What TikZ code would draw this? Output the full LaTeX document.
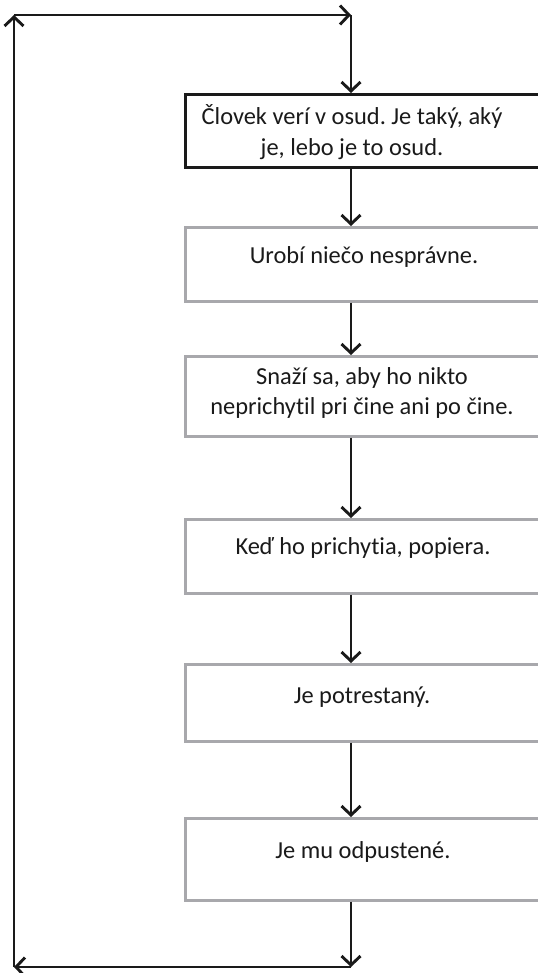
\documentclass[tikz,border=0pt]{standalone}
\usepackage{fontspec}
\setmainfont{Carlito}[Ligatures=NoCommon]
\usetikzlibrary{arrows.meta}
\definecolor{boxgray}{HTML}{A8A8AC}
\definecolor{ink}{HTML}{1A1A1A}
\frenchspacing
\begin{document}
\begin{tikzpicture}[x=1bp,y=-1bp,
  arr/.style={draw=ink,line width=2.9bp,-{Straight Barb[length=9bp,width=19bp,line width=2.9bp]}},
  stepbox/.style={draw=boxgray,line width=2.6bp,fill=white,inner sep=0pt,anchor=north west},
  firstbox/.style={draw=ink,line width=2.9bp,fill=white,inner sep=0pt,anchor=north west},
  txt/.style={font=\fontsize{24.5}{31}\selectfont,text=ink,align=center,inner sep=0pt}]
\useasboundingbox (0,0) rectangle (538,973);
\coordinate (tl) at (14,15);
\coordinate (tr) at (351,15);
\coordinate (bl) at (14,967);
\coordinate (br) at (351,967);
\node[firstbox,minimum width=357bp,minimum height=73bp] (b1) at (184,93) {};
\node[stepbox,minimum width=357bp,minimum height=74bp] (b2) at (184,226) {};
\node[stepbox,minimum width=357bp,minimum height=80bp] (b3) at (184,355) {};
\node[stepbox,minimum width=357bp,minimum height=74bp] (b4) at (184,518) {};
\node[stepbox,minimum width=357bp,minimum height=77bp] (b5) at (184,663) {};
\node[stepbox,minimum width=357bp,minimum height=82bp] (b6) at (184,817) {};
\node[txt] (t1) at (352,132) {Človek verí v osud. Je taký, aký\\je, lebo je to osud.};
\node[txt] (t2) at (364,257) {Urobí niečo nesprávne.};
\node[txt] (t3) at (362,393) {Snaží sa, aby ho nikto\\neprichytil pri čine ani po čine.};
\node[txt] (t4) at (363,548) {Keď ho prichytia, popiera.};
\node[txt] (t5) at (362,697) {Je potrestaný.};
\node[txt] (t6) at (363,852) {Je mu odpustené.};
\draw[arr] (tl) -- (tr);
\draw[arr] (tr) -- (b1.north -| tr);
\draw[arr] (b1.south -| tr) -- (b2.north -| tr);
\draw[arr] (b2.south -| tr) -- (b3.north -| tr);
\draw[arr] (b3.south -| tr) -- (b4.north -| tr);
\draw[arr] (b4.south -| tr) -- (b5.north -| tr);
\draw[arr] (b5.south -| tr) -- (b6.north -| tr);
\draw[arr] (b6.south -| tr) -- (br);
\draw[arr] (br) -- (bl);
\draw[arr] (bl) -- (tl);
\end{tikzpicture}
\end{document}
